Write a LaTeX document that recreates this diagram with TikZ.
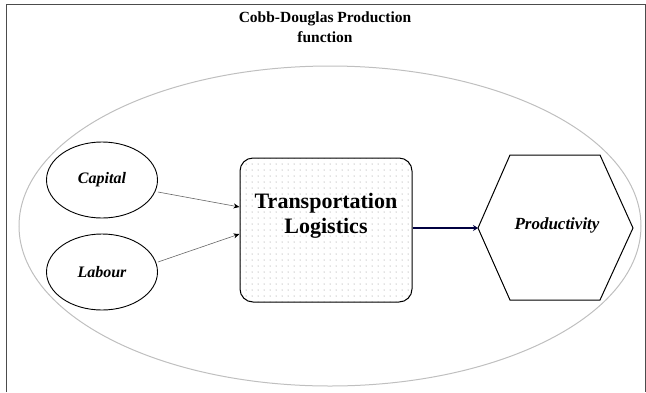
\documentclass[tikz,border=0pt]{standalone}
\usepackage{fontspec}
\setmainfont{Liberation Serif}
\usetikzlibrary{arrows.meta,shapes.geometric,patterns.meta}
\begin{document}
\begin{tikzpicture}[x=1pt,y=-1pt,
  frameline/.style={draw=black!70,line width=0.8pt},
  inputell/.style={draw=black,line width=0.9pt,ellipse,minimum width=111pt,minimum height=76pt,font=\bfseries\itshape\fontsize{16}{18}\selectfont},
  thin arrow/.style={draw=black!60,line width=0.6pt,-{Stealth[length=6pt,width=5pt,black]}},
  thick arrow/.style={draw=blue!25!black,line width=2.2pt,-{Stealth[length=5pt,width=6pt]}}]
\useasboundingbox (0,0) rectangle (646,392);
% frame
\draw[frameline] (6,392) -- (6,4) -- (645,4) -- (645,392);
% title
\node[align=center,font=\bfseries\fontsize{15.5}{20}\selectfont] (title) at (325,27) {Cobb-Douglas Production\\function};
% big ellipse
\draw[black!25,line width=1pt] (330,226) ellipse [x radius=311, y radius=160];
% inputs
\node[inputell] (capital) at (102,180) {Capital};
\node[inputell] (labour) at (102,272) {Labour};
% box
\node[draw=black,line width=1pt,rounded corners=13pt,minimum width=172pt,minimum height=144pt,
  pattern={Dots[distance=6pt,radius=0.5pt]},pattern color=black!50] (tl) at (326,230) {};
\node[align=center,font=\bfseries\fontsize{22}{25}\selectfont] (tltext) at (326,216) {Transportation\\Logistics};
% hexagon
\coordinate (hW) at (478,228);
\coordinate (hNW) at (510,155);
\coordinate (hNE) at (600,155);
\coordinate (hE) at (633,228);
\coordinate (hSE) at (600,300);
\coordinate (hSW) at (510,300);
\draw[black,line width=1pt,line join=miter] (hW) -- (hNW) -- (hNE) -- (hE) -- (hSE) -- (hSW) -- cycle;
\node[font=\bfseries\itshape\fontsize{17}{19}\selectfont] (prodtext) at (557,225) {Productivity};
% arrows
\draw[thin arrow] (capital.east) ++(0,12) coordinate (c1) (c1) -- ([yshift=23pt]tl.west);
\draw[thin arrow] (labour.east) ++(0,-10) coordinate (l1) (l1) -- ([yshift=-4pt]tl.west);
\draw[thick arrow] (tl.east |- hW) -- (hW);
\end{tikzpicture}
\end{document}
